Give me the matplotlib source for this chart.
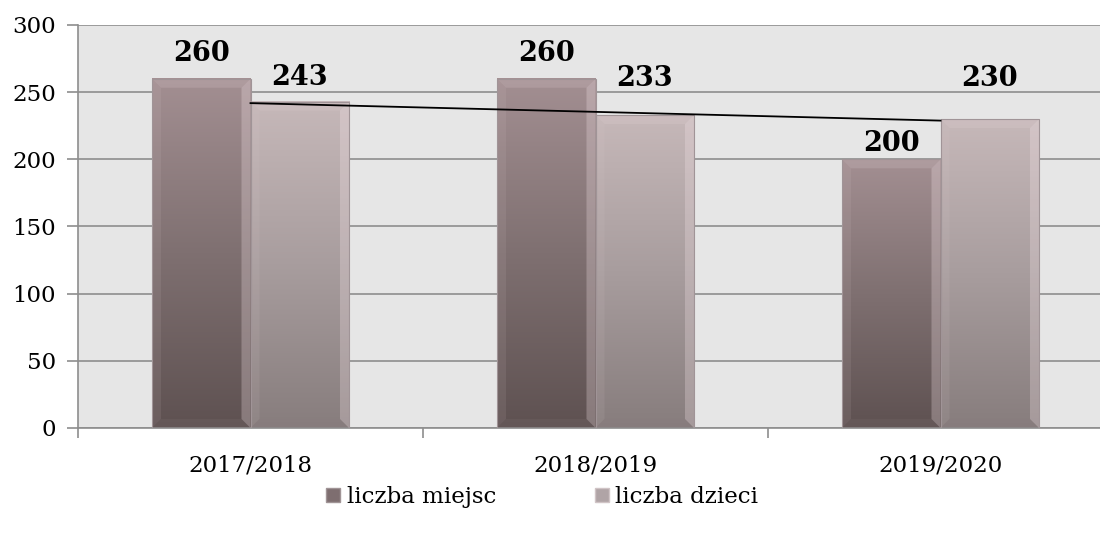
import matplotlib
matplotlib.use("Agg")
import matplotlib.pyplot as plt
import numpy as np
from matplotlib.patches import Polygon, Patch
from matplotlib.colors import LinearSegmentedColormap

categories = ["2017/2018", "2018/2019", "2019/2020"]
liczba_miejsc = [260, 260, 200]
liczba_dzieci = [243, 233, 230]
series_names = ["liczba miejsc", "liczba dzieci"]
yticks = [0, 50, 100, 150, 200, 250, 300]

# label offsets above bar top (pixels, to label centre) as placed in the original
off_miejsc = [28, 28, 19]
off_dzieci = [27, 40, 44]

W, H = 1100, 534
fig = plt.figure(figsize=(W / 100, H / 100), dpi=100)
fig.patch.set_facecolor("white")
ax = fig.add_axes([78 / W, (H - 428) / H, 1035 / W, 403 / H])
ax.set_facecolor("#e6e6e6")
ax.set_xlim(-0.5, 2.5)
ax.set_ylim(0, 300)
px_per_unit = 403 / 300.0

FONT = "DejaVu Serif"

ax.set_yticks(yticks)
ax.yaxis.grid(True, color="#8e8e8e", linewidth=1.2)
ax.set_axisbelow(True)
ax.tick_params(axis="y", length=8, color="#8e8e8e", width=1.2, labelsize=16.5, pad=8)
for lab in ax.get_yticklabels():
    lab.set_fontfamily(FONT)

x = np.arange(len(categories))
ax.set_xticks(x)
ax.set_xticklabels(categories, fontfamily=FONT, fontsize=16.5)
ax.tick_params(axis="x", length=0, pad=19)
ax.set_xticks(np.arange(-0.5, len(categories) + 0.5, 1.0), minor=True)
ax.tick_params(axis="x", which="minor", length=7, color="#8e8e8e", width=1.2)

for s in ["top", "right"]:
    ax.spines[s].set_visible(False)
for s in ["left", "bottom"]:
    ax.spines[s].set_color("#8e8e8e")
    ax.spines[s].set_linewidth(1.2)

bw = 0.2855
cm_m = LinearSegmentedColormap.from_list("m", ["#5e5151", "#7f7071", "#a38f92"])
cm_d = LinearSegmentedColormap.from_list("d", ["#877d7d", "#a89d9e", "#c6b8b9"])
grad = np.linspace(0, 1, 256).reshape(-1, 1)

bx = 9 / 345.0
by = 9 / px_per_unit

def draw_bar(xc, h, cmap):
    x0, x1 = xc - bw / 2, xc + bw / 2
    ax.imshow(grad, cmap=cmap, origin="lower", extent=[x0, x1, 0, h],
              aspect="auto", zorder=2, interpolation="bicubic")
    # bevels
    ax.add_patch(Polygon([[x0, h], [x1, h], [x1 - bx, h - by], [x0 + bx, h - by]],
                         closed=True, facecolor="#e8d8da", alpha=0.18, lw=0, zorder=3))
    ax.add_patch(Polygon([[x0, 0], [x0, h], [x0 + bx, h - by], [x0 + bx, by]],
                         closed=True, facecolor="#e0d0d2", alpha=0.10, lw=0, zorder=3))
    ax.add_patch(Polygon([[x1, 0], [x1, h], [x1 - bx, h - by], [x1 - bx, by]],
                         closed=True, facecolor="#f6e6ea", alpha=0.28, lw=0, zorder=3))
    ax.add_patch(Polygon([[x0, 0], [x1, 0], [x1 - bx, by], [x0 + bx, by]],
                         closed=True, facecolor="#8a7c7e", alpha=0.15, lw=0, zorder=3))
    ax.add_patch(Polygon([[x0, 0], [x0, h], [x1, h], [x1, 0]], closed=True,
                         fill=False, edgecolor="#a09497", lw=0.8, zorder=3))

for i in range(len(categories)):
    draw_bar(x[i] - bw / 2, liczba_miejsc[i], cm_m)
    draw_bar(x[i] + bw / 2, liczba_dzieci[i], cm_d)
    ax.text(x[i] - bw / 2, liczba_miejsc[i] + off_miejsc[i] / px_per_unit,
            str(liczba_miejsc[i]), ha="center", va="center_baseline",
            fontfamily=FONT, fontweight="bold", fontsize=19.5, zorder=5)
    ax.text(x[i] + bw / 2, liczba_dzieci[i] + off_dzieci[i] / px_per_unit,
            str(liczba_dzieci[i]), ha="center", va="center_baseline",
            fontfamily=FONT, fontweight="bold", fontsize=19.5, zorder=5)

# linear trendline of liczba dzieci
coef = np.polyfit(x, liczba_dzieci, 1)
ax.plot(x, np.polyval(coef, x), color="black", lw=1.3, zorder=4)

handles = [Patch(facecolor="#7e6e70", edgecolor="#a09496"),
           Patch(facecolor="#b0a4a6", edgecolor="#d0c4c6")]
fig.legend(handles, series_names, loc="center", bbox_to_anchor=(0.493, 0.069),
           ncol=2, frameon=False, handlelength=0.6, handleheight=0.6,
           handletextpad=0.3, columnspacing=4.3,
           prop={"family": FONT, "size": 16.5})

fig.savefig("out.png", dpi=100, facecolor="white")
